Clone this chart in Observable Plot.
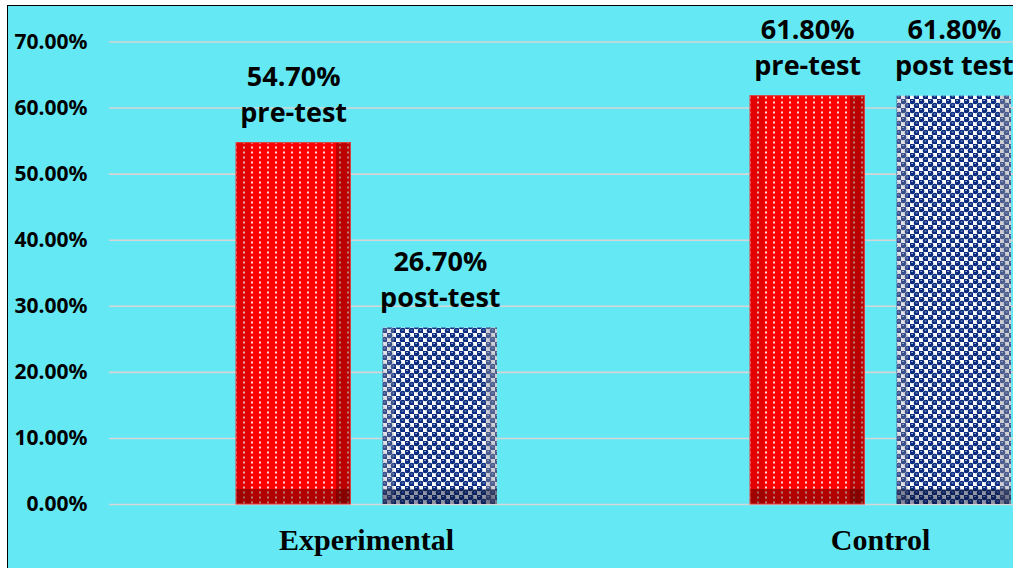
<!DOCTYPE html>
<html>
<head>
<meta charset="utf-8">
<script src="https://cdn.jsdelivr.net/npm/d3@7"></script>
<script src="https://cdn.jsdelivr.net/npm/@observablehq/plot@0.6"></script>
<style>
  html, body { margin: 0; padding: 0; background: #ffffff; width: 1013px; height: 568px; overflow: hidden; }
  #frame { position: absolute; left: 7px; top: 5px; width: 1040px; height: 600px; background: #64E8F4; border-left: 1.5px solid #000; border-top: 1.5px solid #000; }
  #chart { position: absolute; left: 0; top: 0; }
  #chart svg { display: block; }
</style>
</head>
<body>
<div id="frame"></div>
<div id="chart"></div>
<script>
// ---- data ----
const groups = ["Experimental", "Experimental", "Control", "Control"];
const tests = ["pre", "post", "pre", "post"];
const values = [0.547, 0.267, 0.618, 0.618];
const barLabels = ["pre-test", "post-test", "pre-test", "post test"];
const groupOrder = ["Experimental", "Control"];
const yTicks = [0, 0.1, 0.2, 0.3, 0.4, 0.5, 0.6, 0.7];

const data = groups.map((g, i) => ({ group: g, test: tests[i], value: values[i], label: barLabels[i] }));
const pct = v => (v * 100).toFixed(2) + "%";

const isPre = d => d.test === "pre";
const isPost = d => d.test === "post";

const chart = Plot.plot({
  width: 1013,
  height: 568,
  marginLeft: 109,
  marginRight: 0,
  marginTop: 0,
  marginBottom: 64,
  style: { background: "transparent", color: "#000" },
  fx: { domain: groupOrder, range: [109, 1137], padding: 0, round: false },
  x: { domain: ["pre", "post"], range: [236, 497], paddingInner: 0.22, paddingOuter: 0, axis: null, round: false },
  y: { domain: [0, 0.7], range: [504, 41.5] },
  color: { type: "ordinal", domain: ["pre", "post"], range: ["url(#redDots)", "url(#navyDots)"] },
  marks: [
    Plot.ruleY(yTicks, { stroke: "#D6D6D6", strokeWidth: 1.6 }),
    Plot.barY(data, { fx: "group", x: "test", y: "value", fill: "test" }),
    // bevel overlays: red bars
    Plot.barY(data, { filter: isPre, fx: "group", x: "test", y: "value", insetRight: 100, fill: "rgba(120,0,0,0.2)" }),
    Plot.barY(data, { filter: isPre, fx: "group", x: "test", y: "value", insetLeft: 100, fill: "rgba(90,0,0,0.42)" }),
    Plot.barY(data, { filter: isPre, fx: "group", x: "test", y: () => 0, insetTop: -15, fill: "rgba(60,0,0,0.4)" }),
    // bevel overlays: navy bars
    Plot.barY(data, { filter: isPost, fx: "group", x: "test", y: "value", insetRight: 103, fill: "rgba(160,160,170,0.3)" }),
    Plot.barY(data, { filter: isPost, fx: "group", x: "test", y: "value", insetLeft: 103, fill: "rgba(150,150,160,0.45)" }),
    Plot.barY(data, { filter: isPost, fx: "group", x: "test", y: () => 0, insetTop: -15, fill: "rgba(10,20,50,0.45)" }),
    Plot.barY(data, { filter: isPre, fx: "group", x: "test", y: "value", fill: "none", stroke: "#E23A3A", strokeWidth: 1 }),
    Plot.text(data, {
      fx: "group", x: "test", y: "value",
      text: d => pct(d.value) + "\n" + d.label,
      lineAnchor: "bottom", lineHeight: 1.33, dy: -21,
      fontSize: 27, fontWeight: "bold", fontFamily: "'Open Sans', 'Noto Sans', sans-serif", fill: "#000"
    }),
    Plot.axisY({
      ticks: yTicks, tickFormat: pct, tickSize: 0, tickPadding: 22, label: null,
      fontSize: 21, fontWeight: "bold", fontFamily: "'Noto Sans', 'Open Sans', sans-serif"
    }),
    Plot.axisFx({
      anchor: "bottom", tickSize: 0, tickPadding: 24, label: null, lineAnchor: "top",
      fontSize: 30, fontWeight: "bold", fontFamily: "'Liberation Serif', 'DejaVu Serif', serif"
    })
  ]
});

const svg = chart.tagName.toLowerCase() === "svg" ? chart : chart.querySelector("svg");
const ns = "http://www.w3.org/2000/svg";
const defs = document.createElementNS(ns, "defs");
defs.innerHTML = `
  <pattern id="redDots" width="8" height="5" patternUnits="userSpaceOnUse">
    <rect width="8" height="5" fill="#FF0000"/>
    <rect x="3" y="1.5" width="2" height="2" fill="#ffffff" opacity="0.85"/>
  </pattern>
  <pattern id="navyDots" width="9" height="9" patternUnits="userSpaceOnUse">
    <rect width="9" height="9" fill="#ffffff"/>
    <circle cx="2.25" cy="2.25" r="3" fill="#0B2C7E"/>
    <circle cx="6.75" cy="6.75" r="3" fill="#0B2C7E"/>
    <rect x="1.2" y="1.1" width="1.8" height="0.9" fill="#A8B8E0"/>
    <rect x="5.7" y="5.6" width="1.8" height="0.9" fill="#A8B8E0"/>
  </pattern>`;
svg.insertBefore(defs, svg.firstChild);
document.getElementById("chart").appendChild(chart);
</script>
</body>
</html>
